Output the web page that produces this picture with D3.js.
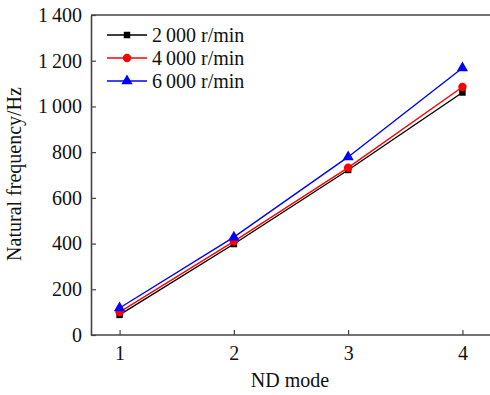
<!DOCTYPE html>
<html>
<head>
<meta charset="utf-8">
<script src="https://cdn.jsdelivr.net/npm/d3@7"></script>
<style>
  body { margin: 0; background: #fff; }
  text { font-family: "Liberation Serif", "Times New Roman", serif; fill: #111; }
</style>
</head>
<body>
<svg id="chart" width="490" height="395"></svg>
<script>
const modes = [1, 2, 3, 4];
const yTicks = [0, 200, 400, 600, 800, 1000, 1200, 1400];
const yTickLabels = ['0', '200', '400', '600', '800', '1\u2009000', '1\u2009200', '1\u2009400'];
const speed2000 = [88, 398, 722, 1061];
const speed4000 = [100, 410, 732, 1085];
const speed6000 = [118, 428, 779, 1168];
const seriesNames = ['2\u2009000 r/min', '4\u2009000 r/min', '6\u2009000 r/min'];

const series = [
    { name: seriesNames[0], values: speed2000, color: '#000000', symbol: d3.symbolSquare, size: 42 },
    { name: seriesNames[1], values: speed4000, color: '#ff0000', symbol: d3.symbolCircle, size: 55 },
    { name: seriesNames[2], values: speed6000, color: '#0000ff', symbol: d3.symbolTriangle, size: 55 }
];

const margin = { top: 15, right: 0, bottom: 60, left: 91 };
const width = 490 - margin.left - margin.right;
const height = 395 - margin.top - margin.bottom;

const svg = d3.select('#chart')
    .append('g')
    .attr('transform', `translate(${margin.left},${margin.top})`);

const x = d3.scaleLinear().domain([0.75, 4.25]).range([0, 400]);
const y = d3.scaleLinear().domain([0, 1400]).range([height, 0]);

const axisColor = '#444';

// x axis
const xAxis = svg.append('g')
    .attr('transform', `translate(0,${height})`)
    .call(d3.axisBottom(x).tickValues(modes).tickFormat(d3.format('d'))
        .tickSizeInner(-5).tickSizeOuter(0).tickPadding(11));
xAxis.select('.domain').attr('d', `M0,0H${width}`);

// y axis
const yAxis = svg.append('g')
    .call(d3.axisLeft(y).tickValues(yTicks).tickFormat((d, i) => yTickLabels[i])
        .tickSizeInner(-5).tickSizeOuter(0).tickPadding(9));

[xAxis, yAxis].forEach(g => {
    g.attr('font-size', null).attr('font-family', null);
    g.selectAll('.domain').attr('stroke', axisColor).attr('stroke-width', 1.6);
    g.selectAll('.tick line').attr('stroke', axisColor).attr('stroke-width', 1.2);
    g.selectAll('.tick text').style('font-size', '20px').attr('fill', '#111');
});

// top border
svg.append('line')
    .attr('x1', 0).attr('x2', width)
    .attr('y1', 0).attr('y2', 0)
    .attr('stroke', axisColor).attr('stroke-width', 1.6);

// lines and markers
const line = d3.line()
    .x((d, i) => x(modes[i]))
    .y(d => y(d));

series.forEach(s => {
    svg.append('path')
        .datum(s.values)
        .attr('fill', 'none')
        .attr('stroke', s.color)
        .attr('stroke-width', 1.4)
        .attr('d', line);
});

series.forEach(s => {
    svg.selectAll(null)
        .data(s.values)
        .join('path')
        .attr('transform', (d, i) => `translate(${x(modes[i])},${y(d)})`)
        .attr('d', d3.symbol().type(s.symbol).size(s.size))
        .attr('fill', s.color);
});

// legend
const legend = svg.append('g').attr('transform', 'translate(16,20)');
series.forEach((s, i) => {
    const row = legend.append('g').attr('transform', `translate(0,${i * 23})`);
    row.append('line')
        .attr('x1', 0).attr('x2', 40)
        .attr('stroke', s.color).attr('stroke-width', 1.4);
    row.append('path')
        .attr('transform', 'translate(20,0)')
        .attr('d', d3.symbol().type(s.symbol).size(s.size))
        .attr('fill', s.color);
    row.append('text')
        .attr('x', 45).attr('y', 6.5)
        .style('font-size', '20px')
        .text(s.name);
});

// axis titles
svg.append('text')
    .attr('x', 199).attr('y', height + 52)
    .attr('text-anchor', 'middle')
    .style('font-size', '20px')
    .text('ND mode');

svg.append('text')
    .attr('transform', `translate(-70,${height / 2 - 1}) rotate(-90)`)
    .attr('text-anchor', 'middle')
    .style('font-size', '20px')
    .text('Natural frequency/Hz');
</script>
</body>
</html>
